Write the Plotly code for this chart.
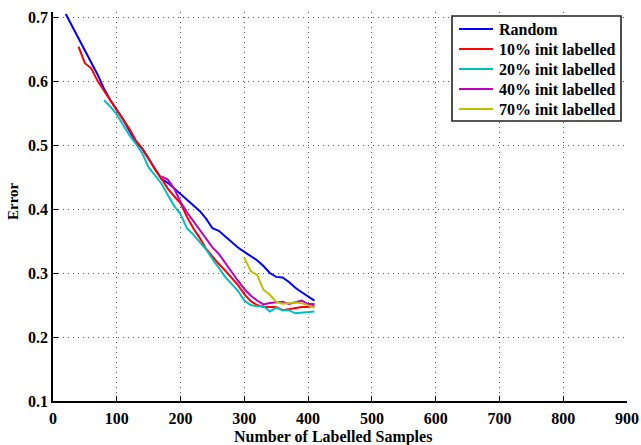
import plotly.graph_objects as go

x_random = list(range(20, 411, 10))
y_random = [0.705, 0.686, 0.667, 0.648, 0.627, 0.610, 0.588, 0.570, 0.555, 0.540,
            0.522, 0.505, 0.494, 0.479, 0.463, 0.447, 0.441, 0.432, 0.423, 0.414,
            0.405, 0.397, 0.385, 0.370, 0.366, 0.357, 0.349, 0.340, 0.333, 0.326,
            0.320, 0.311, 0.300, 0.294, 0.293, 0.286, 0.277, 0.270, 0.264, 0.257]

x_10 = list(range(40, 411, 10))
y_10 = [0.654, 0.628, 0.620, 0.600, 0.585, 0.570, 0.557, 0.540, 0.525, 0.507,
        0.495, 0.479, 0.462, 0.448, 0.432, 0.420, 0.409, 0.388, 0.370, 0.355,
        0.338, 0.326, 0.314, 0.304, 0.293, 0.281, 0.267, 0.256, 0.250, 0.247,
        0.247, 0.247, 0.242, 0.244, 0.246, 0.247, 0.247, 0.249]

x_20 = list(range(80, 411, 10))
y_20 = [0.570, 0.560, 0.548, 0.532, 0.515, 0.502, 0.487, 0.465, 0.452, 0.440,
        0.422, 0.405, 0.392, 0.370, 0.360, 0.348, 0.337, 0.322, 0.308, 0.294,
        0.283, 0.272, 0.257, 0.250, 0.248, 0.248, 0.240, 0.246, 0.242, 0.242,
        0.237, 0.238, 0.238, 0.240]

x_40 = list(range(170, 411, 10))
y_40 = [0.451, 0.446, 0.432, 0.411, 0.395, 0.381, 0.368, 0.352, 0.340, 0.330,
        0.316, 0.300, 0.288, 0.275, 0.265, 0.257, 0.251, 0.253, 0.2535, 0.255,
        0.2515, 0.254, 0.257, 0.2515, 0.2515]

x_70 = list(range(300, 411, 10))
y_70 = [0.324, 0.303, 0.297, 0.274, 0.266, 0.255, 0.252, 0.253, 0.254, 0.253,
        0.249, 0.246]

series_names = ["Random", "10% init labelled", "20% init labelled",
                "40% init labelled", "70% init labelled"]
series_x = [x_random, x_10, x_20, x_40, x_70]
series_y = [y_random, y_10, y_20, y_40, y_70]
series_colors = ["#0000ff", "#ff0000", "#00bfbf", "#bf00bf", "#bfbf00"]

x_ticks = [0, 100, 200, 300, 400, 500, 600, 700, 800, 900]
y_ticks = [0.1, 0.2, 0.3, 0.4, 0.5, 0.6, 0.7]

W, H = 641, 445
ML, MR, MT, MB = 53, 14, 12, 44
PW, PH = W - ML - MR, H - MT - MB


def px(xp):
    return (xp - ML) / PW


def py(yp):
    return (H - MB - yp) / PH


font = "Liberation Serif, Times New Roman, serif"

fig = go.Figure()
for name, xs, ys, col in zip(series_names, series_x, series_y, series_colors):
    fig.add_trace(go.Scatter(x=xs, y=ys, mode="lines", name=name,
                             line=dict(color=col, width=2), showlegend=False))

shapes = []
annotations = []
# manual legend box (MATLAB-style)
shapes.append(dict(type="rect", xref="paper", yref="paper",
                   x0=px(452), x1=px(621), y0=py(121), y1=py(16),
                   line=dict(color="#222", width=1.6), fillcolor="white", layer="above"))
for i, (name, col) in enumerate(zip(series_names, series_colors)):
    yy = 29 + 20 * i
    shapes.append(dict(type="line", xref="paper", yref="paper",
                       x0=px(459), x1=px(493), y0=py(yy), y1=py(yy),
                       line=dict(color=col, width=2), layer="above"))
    annotations.append(dict(xref="paper", yref="paper", x=px(497), y=py(yy + 0.5),
                            xanchor="left", yanchor="middle", showarrow=False,
                            text="<b>%s</b>" % name,
                            font=dict(family=font, size=16, color="black")))

annotations.append(dict(xref="paper", yref="paper", x=px(333), y=py(437),
                        xanchor="center", yanchor="middle", showarrow=False,
                        text="<b>Number of Labelled Samples</b>",
                        font=dict(family=font, size=16, color="black")))
annotations.append(dict(xref="paper", yref="paper", x=px(13), y=py(201),
                        xanchor="center", yanchor="middle", showarrow=False,
                        textangle=-90, text="<b>Error</b>",
                        font=dict(family=font, size=15, color="black")))

fig.update_layout(
    width=W, height=H,
    margin=dict(l=ML, r=MR, t=MT, b=MB),
    paper_bgcolor="white", plot_bgcolor="white",
    font=dict(family=font, size=16, color="black"),
    showlegend=False,
    shapes=shapes, annotations=annotations,
)
fig.update_xaxes(range=[0, 900], tickvals=x_ticks,
                 ticktext=["<b>%d</b>" % v for v in x_ticks],
                 showline=True, linecolor="black", linewidth=1.5,
                 ticks="inside", ticklen=5, tickcolor="black",
                 showgrid=True, gridcolor="#555", griddash="1px,4px", gridwidth=1,
                 zeroline=False, automargin=False, ticklabelstandoff=2,
                 tickfont=dict(family=font, size=16, color="black"))
fig.update_yaxes(range=[0.1, 0.708], tickvals=y_ticks,
                 ticktext=["<b>%.1f</b>" % v for v in y_ticks],
                 showline=True, linecolor="black", linewidth=1.5,
                 ticks="inside", ticklen=5, tickcolor="black",
                 showgrid=True, gridcolor="#555", griddash="1px,4px", gridwidth=1,
                 zeroline=False, automargin=False,
                 tickfont=dict(family=font, size=16, color="black"))

fig.write_html("out.html")
